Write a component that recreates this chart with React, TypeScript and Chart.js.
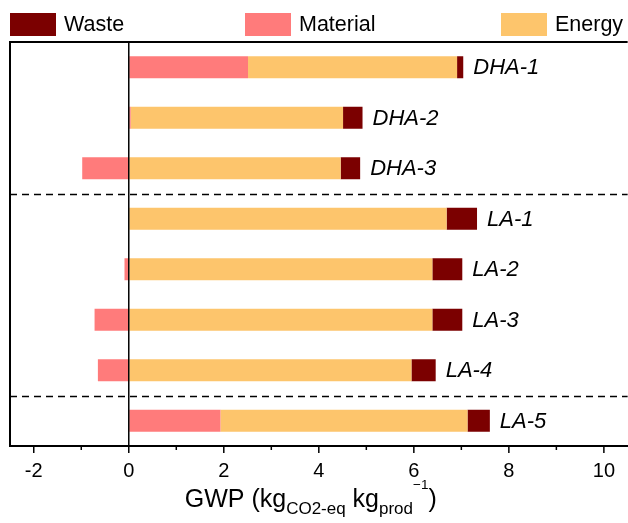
import React, { useEffect, useRef } from "react";
import { Chart, registerables } from "chart.js";

Chart.register(...registerables);

// ---------- data ----------
const categories = ["DHA-1", "DHA-2", "DHA-3", "LA-1", "LA-2", "LA-3", "LA-4", "LA-5"];
const material = [2.51, 0.04, -0.98, 0, -0.09, -0.72, -0.65, 1.93];
const energy = [4.4, 4.47, 4.46, 6.69, 6.39, 6.39, 5.95, 5.2];
const waste = [0.13, 0.41, 0.41, 0.64, 0.63, 0.63, 0.51, 0.47];
const legendOrder = ["Waste", "Material", "Energy"];
const xMin = -2.5;
const xMax = 10.5;
const majorStep = 2;
const groupSeparators = [2.5, 6.5];
const titleParts: { t: string; k: "main" | "sub" | "sup" }[] = [
  { t: "GWP (kg", k: "main" },
  { t: "CO2-eq", k: "sub" },
  { t: " kg", k: "main" },
  { t: "prod", k: "sub" },
  { t: "\u22121", k: "sup" },
  { t: ")", k: "main" },
];

// ---------- style ----------
const COLORS: Record<string, string> = {
  Waste: "#7B0000",
  Material: "#FF7B7B",
  Energy: "#FDC56C",
};
const FONT = "'Liberation Sans', Arial, Helvetica, sans-serif";

const decorPlugin = {
  id: "decor",
  afterDatasetsDraw(chart: any) {
    const { ctx, chartArea: a, scales } = chart;
    const x = scales.x;
    const y = scales.y;
    ctx.save();
    ctx.strokeStyle = "#000";

    // zero line
    const x0 = x.getPixelForValue(0);
    ctx.lineWidth = 1.5;
    ctx.beginPath();
    ctx.moveTo(x0, a.top);
    ctx.lineTo(x0, a.bottom);
    ctx.stroke();

    // dashed group separators
    ctx.setLineDash([7, 5]);
    ctx.lineWidth = 1.6;
    for (const s of groupSeparators) {
      const yy = Math.round(y.getPixelForValue(s)) + 0.5;
      ctx.beginPath();
      ctx.moveTo(a.left, yy);
      ctx.lineTo(a.right, yy);
      ctx.stroke();
    }
    ctx.setLineDash([]);

    // frame: left and top
    ctx.lineWidth = 2;
    ctx.beginPath();
    ctx.moveTo(a.left, a.bottom);
    ctx.lineTo(a.left, a.top);
    ctx.lineTo(a.right, a.top);
    ctx.stroke();

    // ticks (major every 2, minor every 1)
    ctx.lineWidth = 1.5;
    for (let v = Math.ceil(xMin); v <= Math.floor(xMax); v++) {
      const px = x.getPixelForValue(v);
      const len = v % majorStep === 0 ? 7 : 4;
      ctx.beginPath();
      ctx.moveTo(px, a.bottom);
      ctx.lineTo(px, a.bottom + len);
      ctx.stroke();
    }

    // category labels to the right of bars
    ctx.fillStyle = "#000";
    ctx.font = `italic 22px ${FONT}`;
    ctx.textBaseline = "middle";
    ctx.textAlign = "left";
    categories.forEach((c, i) => {
      let end = x0;
      let yy = 0;
      chart.data.datasets.forEach((_d: any, di: number) => {
        const el: any = chart.getDatasetMeta(di).data[i];
        if (!el) return;
        end = Math.max(end, el.x, el.base);
        yy = el.y;
      });
      ctx.fillText(c, end + 10, yy + 1);
    });
    ctx.restore();
  },
  afterDraw(chart: any) {
    const { ctx, scales } = chart;
    const x = scales.x;
    ctx.save();

    // legend
    const boxW = 46;
    const boxH = 23;
    const boxTop = 13;
    const startsPx = [10, 245, 501];
    ctx.font = `21.5px ${FONT}`;
    ctx.textBaseline = "middle";
    ctx.textAlign = "left";
    legendOrder.forEach((name, i) => {
      const bx = startsPx[i];
      ctx.fillStyle = COLORS[name];
      ctx.fillRect(bx, boxTop, boxW, boxH);
      ctx.fillStyle = "#000";
      ctx.fillText(name, bx + boxW + 8, boxTop + boxH / 2 + 1);
    });

    // axis title with sub/superscripts
    const sizes = { main: 25, sub: 17, sup: 13.5 };
    const baseY = 507;
    const offs = { main: 0, sub: 7, sup: -18 };
    let total = 0;
    const widths = titleParts.map((p) => {
      ctx.font = `${sizes[p.k]}px ${FONT}`;
      const w = ctx.measureText(p.t).width;
      total += w;
      return w;
    });
    let cx = x.getPixelForValue(3.83) - total / 2;
    ctx.fillStyle = "#000";
    ctx.textBaseline = "alphabetic";
    titleParts.forEach((p, i) => {
      ctx.font = `${sizes[p.k]}px ${FONT}`;
      ctx.fillText(p.t, cx, baseY + offs[p.k]);
      cx += widths[i];
    });
    ctx.restore();
  },
};

export default function App() {
  const ref = useRef<HTMLCanvasElement | null>(null);

  useEffect(() => {
    if (!ref.current) return;
    const mk = (label: string, data: number[]) => ({
      label,
      data,
      backgroundColor: COLORS[label],
      borderWidth: 0,
      barPercentage: 0.437,
      categoryPercentage: 1,
    });
    const chart = new Chart(ref.current, {
      type: "bar",
      data: {
        labels: categories,
        datasets: [mk("Material", material), mk("Energy", energy), mk("Waste", waste)],
      },
      options: {
        indexAxis: "y",
        responsive: false,
        animation: false,
        devicePixelRatio: 1,
        layout: { padding: { left: 10, right: 0, top: 42, bottom: 27 } },
        plugins: {
          legend: { display: false },
          tooltip: { enabled: false },
        },
        scales: {
          x: {
            type: "linear",
            min: xMin,
            max: xMax,
            stacked: true,
            afterBuildTicks: (axis: any) => {
              axis.ticks = axis.ticks.filter(
                (t: any) => Number.isInteger(t.value) && t.value % majorStep === 0
              );
            },
            grid: { display: true, drawOnChartArea: false, drawTicks: false },
            border: { display: true, color: "#000", width: 2 },
            ticks: {
              stepSize: majorStep,
              includeBounds: false,
              color: "#000",
              font: { family: FONT, size: 20 },
              padding: 13,
              maxRotation: 0,
              autoSkip: false,
            },
          },
          y: {
            stacked: true,
            display: false,
          },
        },
      },
      plugins: [decorPlugin],
    } as any);
    return () => chart.destroy();
  }, []);

  return (
    <div
      style={{
        position: "fixed",
        left: 0,
        top: 0,
        width: 628,
        height: 523,
        background: "#fff",
      }}
    >
      <canvas ref={ref} width={628} height={523} style={{ display: "block" }} />
    </div>
  );
}
